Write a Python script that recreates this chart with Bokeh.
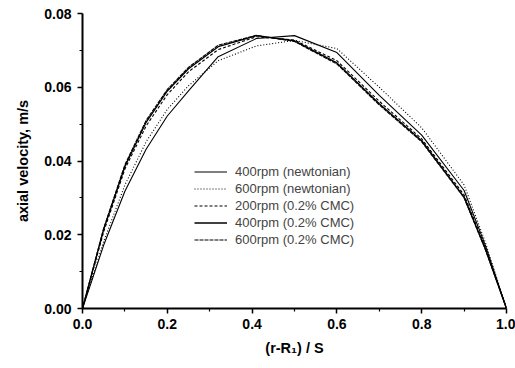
from bokeh.plotting import figure
from bokeh.models import Range1d, Legend, LegendItem, FixedTicker
from bokeh.embed import file_html
from bokeh.resources import INLINE

x = [0, 0.05, 0.1, 0.15, 0.2, 0.25, 0.32, 0.41, 0.5, 0.6, 0.7, 0.8, 0.9, 0.95, 1.0]
newt_400 = [0, 0.0172, 0.0318, 0.0432, 0.0522, 0.0590, 0.0683, 0.0732, 0.0740, 0.0694, 0.0578, 0.0470, 0.0320, 0.0172, 0]
newt_600 = [0, 0.0182, 0.0335, 0.0452, 0.0540, 0.0604, 0.0672, 0.0712, 0.0727, 0.0705, 0.0600, 0.0490, 0.0335, 0.0180, 0]
cmc_200 = [0, 0.0208, 0.0378, 0.0495, 0.0580, 0.0642, 0.0702, 0.0737, 0.0728, 0.0672, 0.0562, 0.0460, 0.0308, 0.0166, 0]
cmc_400 = [0, 0.0215, 0.0385, 0.0505, 0.0590, 0.0650, 0.0710, 0.0740, 0.0726, 0.0666, 0.0555, 0.0455, 0.0302, 0.0162, 0]
cmc_600 = [0, 0.0218, 0.0390, 0.0510, 0.0594, 0.0654, 0.0714, 0.0741, 0.0724, 0.0663, 0.0552, 0.0452, 0.0300, 0.0160, 0]

labels = ["400rpm (newtonian)", "600rpm (newtonian)", "200rpm (0.2% CMC)",
          "400rpm (0.2% CMC)", "600rpm (0.2% CMC)"]
series = [newt_400, newt_600, cmc_200, cmc_400, cmc_600]
dashes = ["solid", "1 2", "3 2", "solid", "4 1"]
widths = [1.1, 1.1, 1.1, 1.4, 1.1]

xticks = [0.0, 0.2, 0.4, 0.6, 0.8, 1.0]
yticks = [0.00, 0.02, 0.04, 0.06, 0.08]

p = figure(width=515, height=368, output_backend="svg", toolbar_location=None,
           x_range=Range1d(0, 1.0), y_range=Range1d(0, 0.08),
           min_border_left=82, min_border_right=9, min_border_top=13, min_border_bottom=60)
p.outline_line_color = None
p.xgrid.visible = False
p.ygrid.visible = False

items = []
for lab, ys, d, w in zip(labels, series, dashes, widths):
    r = p.line(x, ys, line_color="black", line_width=w, line_dash=d)
    items.append(LegendItem(label=lab, renderers=[r]))

legend = Legend(items=items, location=(112, 60), padding=0, margin=0,
                border_line_color=None, background_fill_alpha=0,
                label_text_font="Liberation Sans", label_text_font_size="13px",
                label_height=17, glyph_height=17, glyph_width=33, spacing=0,
                label_standoff=8)
p.add_layout(legend, "center")

for ax in (p.xaxis[0], p.yaxis[0]):
    ax.axis_line_width = 2
    ax.axis_line_color = "black"
    ax.major_tick_line_width = 1.5
    ax.minor_tick_line_width = 1.2
    ax.major_tick_in = 0
    ax.major_tick_out = 5
    ax.minor_tick_in = 0
    ax.minor_tick_out = 3
    ax.major_label_text_font = "Liberation Sans"
    ax.major_label_text_font_style = "bold"
    ax.major_label_text_font_size = "14px"
    ax.major_label_text_color = "black"
    ax.axis_label_text_font = "Liberation Sans"
    ax.axis_label_text_font_style = "bold"
    ax.axis_label_text_font_size = "14.5px"
    ax.axis_label_text_color = "black"

p.xaxis[0].ticker = FixedTicker(ticks=xticks, minor_ticks=[0.1, 0.3, 0.5, 0.7, 0.9])
p.yaxis[0].ticker = FixedTicker(ticks=yticks, minor_ticks=[0.01, 0.03, 0.05, 0.07])
p.xaxis[0].major_label_overrides = {t: f"{t:.1f}" for t in xticks}
p.yaxis[0].major_label_overrides = {t: f"{t:.2f}" for t in yticks}
p.xaxis[0].axis_label = "(r-R\u2081) / S"
p.yaxis[0].axis_label = "axial velocity, m/s"
p.xaxis[0].major_label_standoff = 5
p.yaxis[0].major_label_standoff = 6
p.xaxis[0].axis_label_standoff = 8
p.yaxis[0].axis_label_standoff = 10

open("out.html", "w").write(file_html(p, INLINE))
